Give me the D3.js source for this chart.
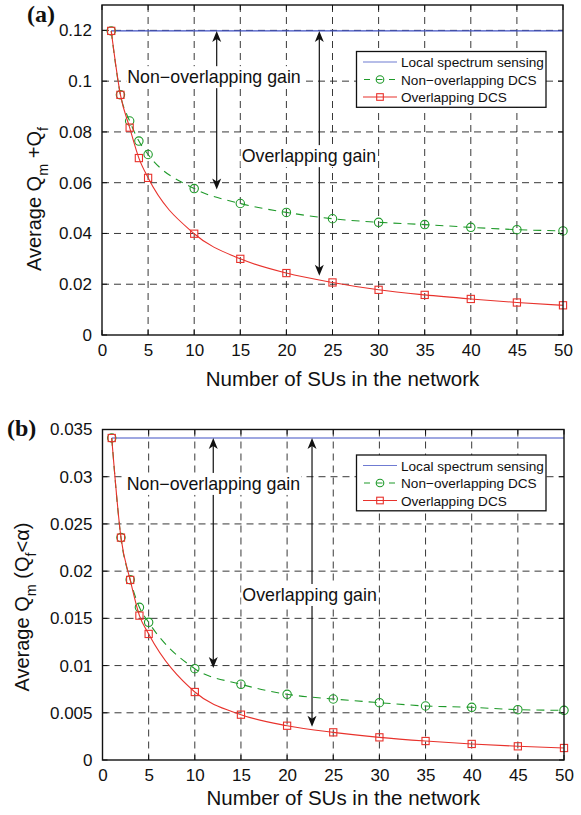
<!DOCTYPE html>
<html>
<head>
<meta charset="utf-8">
<script src="https://cdn.jsdelivr.net/npm/d3@7/dist/d3.min.js"></script>
<style>
  html, body { margin: 0; padding: 0; background: #fff; }
  svg { display: block; font-family: "Liberation Sans", Arial, Helvetica, sans-serif; }
</style>
</head>
<body>
<svg id="chart" width="581" height="815"></svg>
<script>
// ---------- DATA ----------
const suCounts = [1, 2, 3, 4, 5, 10, 15, 20, 25, 30, 35, 40, 45, 50];
const xTicks = [0, 5, 10, 15, 20, 25, 30, 35, 40, 45, 50];

// Panel (a): Average Qm + Qf
const aLocal = 0.1198;
const aNonOverlap = [0.1198, 0.0946, 0.0843, 0.0764, 0.0711, 0.0577, 0.0518, 0.0483, 0.0458, 0.0444, 0.0435, 0.0424, 0.0415, 0.0410];
const aOverlap    = [0.1198, 0.0946, 0.0817, 0.0697, 0.0619, 0.0399, 0.0300, 0.0244, 0.0207, 0.0178, 0.0158, 0.0142, 0.0128, 0.0117];
const aYTicks = [0, 0.02, 0.04, 0.06, 0.08, 0.1, 0.12];
const aYTickLabels = ["0", "0.02", "0.04", "0.06", "0.08", "0.1", "0.12"];

// Panel (b): Average Qm (Qf < alpha)
const bLocal = 0.0341;
const bNonOverlap = [0.0341, 0.02355, 0.0191, 0.01617, 0.01458, 0.00967, 0.00802, 0.00696, 0.00646, 0.00607, 0.00572, 0.00558, 0.00533, 0.00526];
const bOverlap    = [0.0341, 0.02355, 0.01907, 0.01529, 0.01335, 0.0072, 0.0048, 0.00363, 0.00293, 0.0024, 0.00201, 0.0017, 0.00145, 0.00127];
const bYTicks = [0, 0.005, 0.01, 0.015, 0.02, 0.025, 0.03, 0.035];
const bYTickLabels = ["0", "0.005", "0.01", "0.015", "0.02", "0.025", "0.03", "0.035"];

const legendLabels = ["Local spectrum sensing", "Non\u2212overlapping DCS", "Overlapping DCS"];
const gainLabels = ["Non\u2212overlapping gain", "Overlapping gain"];
// gain arrows (x in SUs, from local level down to value)
const aArrows = [{x: 12.44, to: 0.0573}, {x: 23.57, to: 0.0233}];
const bArrows = [{x: 12.0, to: 0.00975}, {x: 22.7, to: 0.00353}];
// gain label anchors (x in SUs, y = baseline value)
const aGainPos = [{x: 2.74, y: 0.0992}, {x: 15.15, y: 0.0681}];
const bGainPos = [{x: 2.62, y: 0.0286}, {x: 15.15, y: 0.01684}];

// ---------- STYLE ----------
const BLUE = "#3f50c4", GREEN = "#1f9a2a", RED = "#e8322c";
const svg = d3.select("#chart");

function arrowHead(g, x, y, dir) {
  const L = 11, W = 4.5, N = 3;
  g.append("path")
    .attr("d", `M${x},${y} L${x - W},${y - dir * L} L${x},${y - dir * (L - N)} L${x + W},${y - dir * L} Z`)
    .attr("fill", "#111");
}

function drawPanel(cfg) {
  const x = d3.scaleLinear().domain([0, 50]).range([cfg.left, cfg.right]);
  const y = d3.scaleLinear().domain(cfg.yDomain).range([cfg.bottom, cfg.top]);
  const g = svg.append("g");

  // grid
  const grid = g.append("g").attr("stroke", "#222").attr("stroke-width", 0.9).attr("stroke-dasharray", "7,5");
  grid.selectAll(".gx").data(xTicks.filter(t => t > 0 && t < 50)).join("line")
    .attr("x1", d => x(d)).attr("x2", d => x(d)).attr("y1", cfg.top).attr("y2", cfg.bottom);
  grid.selectAll(".gy").data(cfg.yTicks.filter(t => t > 0 && y(t) > cfg.top + 1)).join("line")
    .attr("x1", cfg.left).attr("x2", cfg.right).attr("y1", d => y(d)).attr("y2", d => y(d));

  // axes via d3
  const xAxis = d3.axisBottom(x).tickValues(xTicks).tickSize(0).tickPadding(9).tickFormat(d3.format("d"));
  const gx = g.append("g").attr("transform", `translate(0,${cfg.bottom})`).call(xAxis);
  gx.select(".domain").remove();
  gx.selectAll("text").attr("font-size", 17).attr("fill", "#111").attr("font-family", "Liberation Sans, Arial, sans-serif");

  const yAxis = d3.axisLeft(y).tickValues(cfg.yTicks).tickSize(0).tickPadding(10)
    .tickFormat((d, i) => cfg.yTickLabels[i]);
  const gy = g.append("g").attr("transform", `translate(${cfg.left},0)`).call(yAxis);
  gy.select(".domain").remove();
  gy.selectAll("text").attr("font-size", 17).attr("fill", "#111").attr("font-family", "Liberation Sans, Arial, sans-serif");

  // inward ticks
  const tk = g.append("g").attr("stroke", "#111").attr("stroke-width", 1);
  xTicks.forEach(t => {
    tk.append("line").attr("x1", x(t)).attr("x2", x(t)).attr("y1", cfg.bottom).attr("y2", cfg.bottom - 5);
    tk.append("line").attr("x1", x(t)).attr("x2", x(t)).attr("y1", cfg.top).attr("y2", cfg.top + 5);
  });
  cfg.yTicks.forEach(t => {
    tk.append("line").attr("x1", cfg.left).attr("x2", cfg.left + 5).attr("y1", y(t)).attr("y2", y(t));
    tk.append("line").attr("x1", cfg.right).attr("x2", cfg.right - 5).attr("y1", y(t)).attr("y2", y(t));
  });

  // local sensing line
  g.append("line").attr("x1", x(1)).attr("x2", x(50))
    .attr("y1", y(cfg.local)).attr("y2", y(cfg.local))
    .attr("stroke", BLUE).attr("stroke-width", 1.2);

  const line = d3.line().x((d, i) => x(suCounts[i])).y(d => y(d)).curve(d3.curveMonotoneX);

  // non-overlapping (green dashed, circles)
  g.append("path").attr("d", line(cfg.non)).attr("fill", "none")
    .attr("stroke", GREEN).attr("stroke-width", 1.1).attr("stroke-dasharray", "8,6");
  g.selectAll(".cm").data(cfg.non).join("circle")
    .attr("cx", (d, i) => x(suCounts[i])).attr("cy", d => y(d)).attr("r", 4.2)
    .attr("fill", "none").attr("stroke", GREEN).attr("stroke-width", 1.1);

  // overlapping (red solid, squares)
  g.append("path").attr("d", line(cfg.ovl)).attr("fill", "none")
    .attr("stroke", RED).attr("stroke-width", 1.1);
  g.selectAll(".sm").data(cfg.ovl).join("rect")
    .attr("x", (d, i) => x(suCounts[i]) - 3.6).attr("y", d => y(d) - 3.6)
    .attr("width", 7.2).attr("height", 7.2)
    .attr("fill", "none").attr("stroke", RED).attr("stroke-width", 1.1);

  // arrows
  const ag = g.append("g");
  cfg.arrows.forEach(a => {
    const ax = x(a.x), y0 = y(cfg.local), y1 = y(a.to);
    ag.append("line").attr("x1", ax).attr("x2", ax).attr("y1", y0 + 5).attr("y2", y1 - 5)
      .attr("stroke", "#111").attr("stroke-width", 1.2);
    arrowHead(ag, ax, y0, -1);
    arrowHead(ag, ax, y1, 1);
  });

  // gain labels with white background
  cfg.gainPos.forEach((p, i) => {
    const tg = g.append("g");
    const rect = tg.append("rect").attr("fill", "#fff");
    const t = tg.append("text").attr("x", x(p.x)).attr("y", y(p.y))
      .attr("font-size", 17.8).attr("fill", "#111").text(gainLabels[i]);
    const bb = t.node().getBBox();
    rect.attr("x", bb.x - 1).attr("y", bb.y - 1).attr("width", bb.width + 2).attr("height", bb.height + 2);
  });

  // frame
  g.append("rect").attr("x", cfg.left).attr("y", cfg.top)
    .attr("width", cfg.right - cfg.left).attr("height", cfg.bottom - cfg.top)
    .attr("fill", "none").attr("stroke", "#111").attr("stroke-width", 1.4);

  // legend
  const lg = g.append("g").attr("transform", `translate(${cfg.legend[0]},${cfg.legend[1]})`);
  lg.append("rect").attr("x", 0).attr("y", 0).attr("width", 189.5).attr("height", 55.8)
    .attr("fill", "#fff").attr("stroke", "#111").attr("stroke-width", 1.3);
  const rows = [10.5, 28, 45.5];
  lg.append("line").attr("x1", 6.5).attr("x2", 40.5).attr("y1", rows[0]).attr("y2", rows[0])
    .attr("stroke", BLUE).attr("stroke-width", 1.2).attr("opacity", 0.75);
  lg.append("line").attr("x1", 6.5).attr("x2", 40.5).attr("y1", rows[1]).attr("y2", rows[1])
    .attr("stroke", GREEN).attr("stroke-width", 1.1).attr("stroke-dasharray", "6,6.5").attr("stroke-dashoffset", -1);
  lg.append("circle").attr("cx", 23.5).attr("cy", rows[1]).attr("r", 3.8)
    .attr("fill", "none").attr("stroke", GREEN).attr("stroke-width", 1.1);
  lg.append("line").attr("x1", 6.5).attr("x2", 40.5).attr("y1", rows[2]).attr("y2", rows[2])
    .attr("stroke", RED).attr("stroke-width", 1.1);
  lg.append("rect").attr("x", 23.5 - 3.3).attr("y", rows[2] - 3.3).attr("width", 6.6).attr("height", 6.6)
    .attr("fill", "none").attr("stroke", RED).attr("stroke-width", 1.1);
  lg.selectAll(".lt").data(legendLabels).join("text")
    .attr("x", 44.5).attr("y", (d, i) => rows[i] + 5)
    .attr("font-size", 13.6).attr("fill", "#111").text(d => d);

  // x axis title
  g.append("text").attr("x", (cfg.left + cfg.right) / 2 + 10).attr("y", cfg.xTitleY)
    .attr("text-anchor", "middle").attr("font-size", 20.5).attr("fill", "#111")
    .text("Number of SUs in the network");

  // y axis title
  const yt = g.append("text").attr("transform", `translate(${cfg.yTitle[0]},${cfg.yTitle[1]}) rotate(-90)`)
    .attr("text-anchor", "middle").attr("font-size", 20).attr("fill", "#111");
  cfg.yTitleParts.forEach(p => {
    const ts = yt.append("tspan").text(p.t);
    if (p.sub) ts.attr("font-size", 14.5).attr("dy", 7);
    if (p.back) ts.attr("dy", -7);
  });

  // panel label
  g.append("text").attr("x", cfg.panelLabel[0]).attr("y", cfg.panelLabel[1])
    .attr("font-family", "Liberation Serif, Times New Roman, serif").attr("font-weight", "bold")
    .attr("font-size", 24).attr("fill", "#111").text(cfg.label);
}

drawPanel({
  left: 102, right: 563, top: 5, bottom: 335,
  yDomain: [0, 0.13], yTicks: aYTicks, yTickLabels: aYTickLabels,
  local: aLocal, non: aNonOverlap, ovl: aOverlap,
  arrows: aArrows, gainPos: aGainPos,
  legend: [356.5, 51.5],
  xTitleY: 386, yTitle: [41, 199],
  yTitleParts: [{t: "Average Q"}, {t: "m", sub: true}, {t: " +Q", back: true}, {t: "f", sub: true}],
  panelLabel: [27, 22], label: "(a)"
});

drawPanel({
  left: 102.5, right: 564, top: 429.5, bottom: 760,
  yDomain: [0, 0.035], yTicks: bYTicks, yTickLabels: bYTickLabels,
  local: bLocal, non: bNonOverlap, ovl: bOverlap,
  arrows: bArrows, gainPos: bGainPos,
  legend: [356.5, 455],
  xTitleY: 805, yTitle: [29, 607],
  yTitleParts: [{t: "Average Q"}, {t: "m", sub: true}, {t: " (Q", back: true}, {t: "f", sub: true}, {t: "<\u03B1)", back: true}],
  panelLabel: [7, 436], label: "(b)"
});
</script>
</body>
</html>
